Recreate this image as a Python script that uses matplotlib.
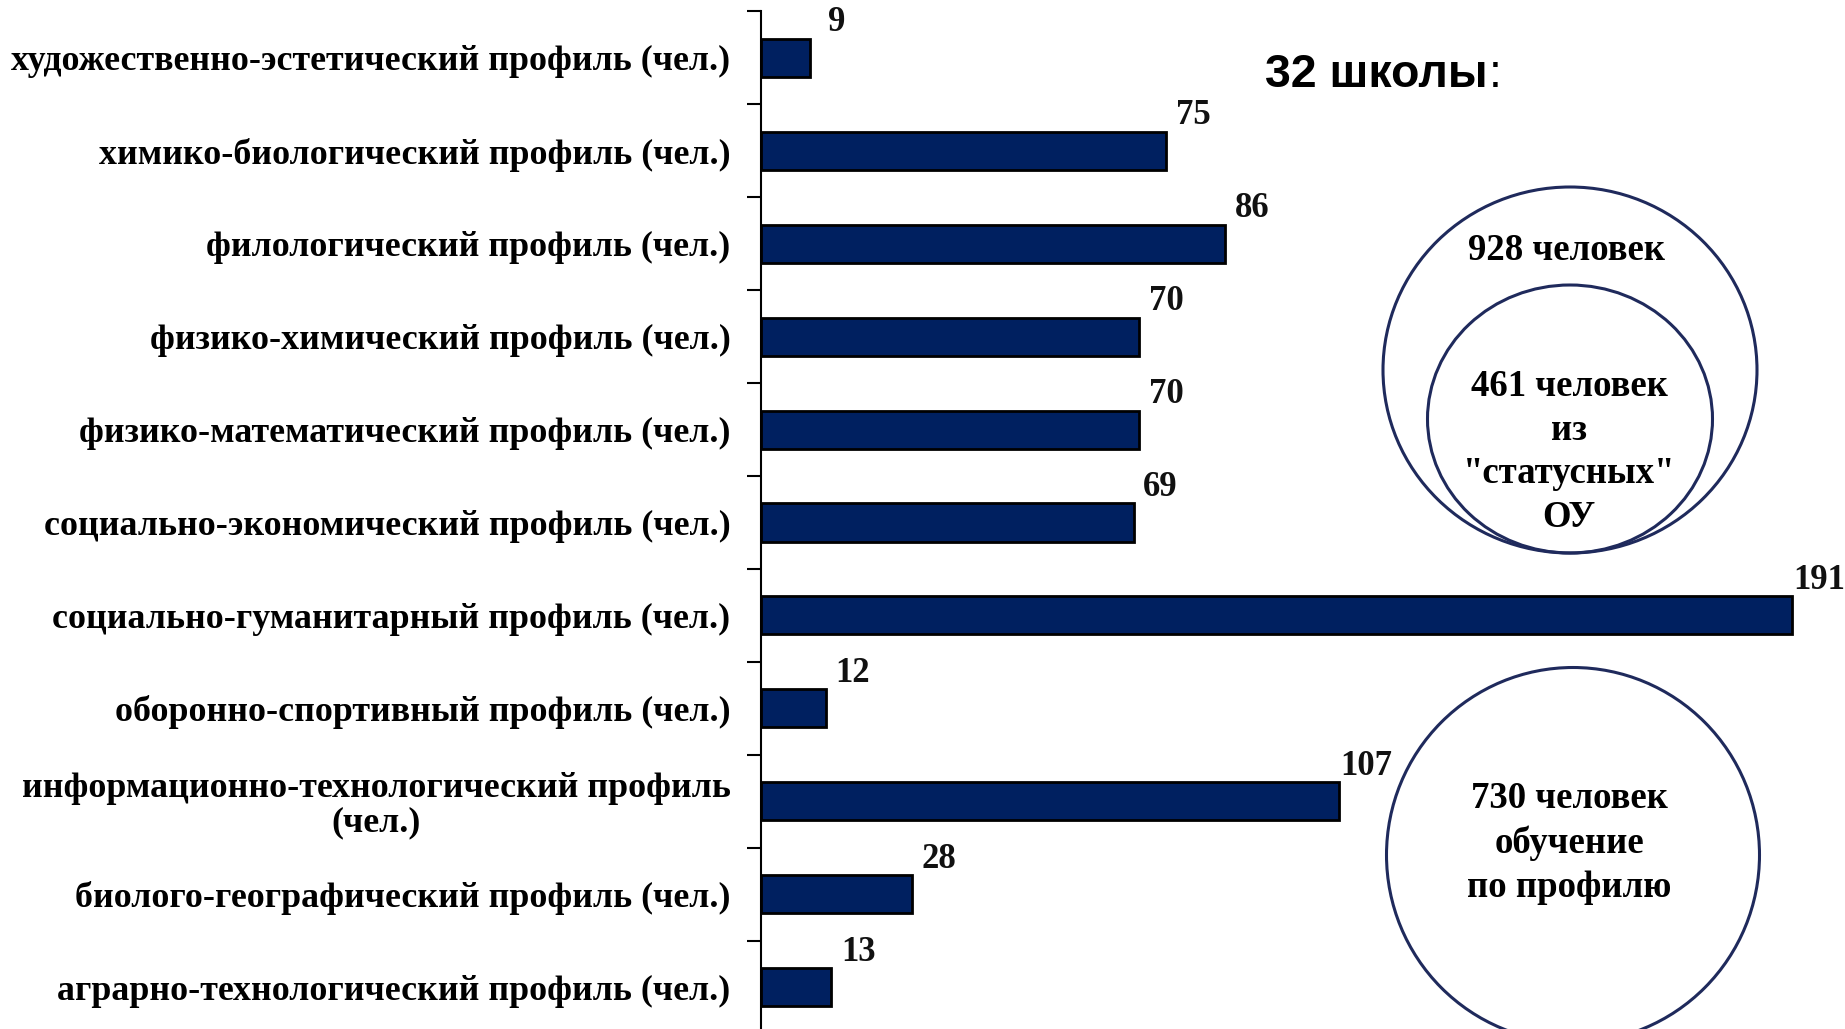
import matplotlib
matplotlib.use('Agg')
import matplotlib.pyplot as plt
from matplotlib.patches import Ellipse
import numpy as np

# Data (top to bottom as in the reference)
categories = [
    'художественно-эстетический профиль (чел.)',
    'химико-биологический профиль (чел.)',
    'филологический профиль (чел.)',
    'физико-химический профиль (чел.)',
    'физико-математический профиль (чел.)',
    'социально-экономический профиль (чел.)',
    'социально-гуманитарный профиль (чел.)',
    'оборонно-спортивный профиль (чел.)',
    'информационно-технологический профиль\n(чел.)',
    'биолого-географический профиль (чел.)',
    'аграрно-технологический профиль (чел.)',
]
values = [9, 75, 86, 70, 70, 69, 191, 12, 107, 28, 13]

schools_title = '32 школы'
circle_texts = ['928 человек', '461 человек\nиз\n"статусных"\nОУ', '730 человек\nобучение\nпо профилю']

W, H = 1845, 1029
DPI = 100
fig = plt.figure(figsize=(W / DPI, H / DPI), dpi=DPI)

# axes placed in pixel terms (left spine at x=761, rows from y=11.5 to 1033.5)
ax = fig.add_axes([761 / W, 1 - 1033.5 / H, 1080 / W, 1022 / H])

bar_color = '#002060'
line_color = '#1F2A5C'
serif = ['Liberation Serif', 'DejaVu Serif']

y = np.arange(len(categories))
ax.barh(y, values, height=0.41, color=bar_color, edgecolor='black', linewidth=2)
ax.set_xlim(0, 200)
ax.set_ylim(len(categories) - 0.5, -0.5)

# value labels above-right of each bar end
for yi, v in zip(y, values):
    ax.annotate(str(v), xy=(v, yi), xytext=(27 * 0.72, 35 * 0.72),
                textcoords='offset points', ha='center', va='center',
                fontsize=25, fontweight='bold', family=serif, color='#111111')

# spines / ticks
for s in ['top', 'right', 'bottom']:
    ax.spines[s].set_visible(False)
ax.spines['left'].set_linewidth(1.5)
ax.xaxis.set_visible(False)
ax.set_yticks(y)
ax.set_yticklabels(categories, family=serif, fontweight='bold', fontsize=25.8,
                   multialignment='center', linespacing=1.05)
ax.tick_params(axis='y', which='major', length=0, pad=22)
ax.set_yticks(np.arange(-0.5, len(categories), 1), minor=True)
ax.tick_params(axis='y', which='minor', length=10, width=1.5, direction='out')

# title text: bold part and regular colon
t = fig.text(1265 / W, 1 - 75 / H, schools_title, family=['Liberation Sans', 'DejaVu Sans'],
             fontweight='bold', fontsize=33.5, ha='left', va='center')
ax.annotate(':', xy=(1, 0.5), xycoords=t, xytext=(1, 0), textcoords='offset points',
            ha='left', va='center', family=['Liberation Sans', 'DejaVu Sans'], fontsize=33.5)

# circles (figure pixel positions)
def ell(cx, cy, w, h):
    e = Ellipse((cx / W, 1 - cy / H), w / W, h / H, transform=fig.transFigure,
                fill=False, edgecolor=line_color, linewidth=2.2)
    fig.add_artist(e)

ell(1570, 370, 374, 366)
ell(1570, 419, 285, 268)
ell(1573, 855, 373, 375)

fig.text(1567 / W, 1 - 251 / H, circle_texts[0], family=serif, fontweight='bold',
         fontsize=26.5, ha='center', va='center')
fig.text(1569 / W, 1 - 452 / H, circle_texts[1], family=serif, fontweight='bold',
         fontsize=26.5, ha='center', va='center', linespacing=1.32)
fig.text(1569 / W, 1 - 843 / H, circle_texts[2], family=serif, fontweight='bold',
         fontsize=26.5, ha='center', va='center', linespacing=1.35)

fig.savefig('out.png', dpi=DPI)
